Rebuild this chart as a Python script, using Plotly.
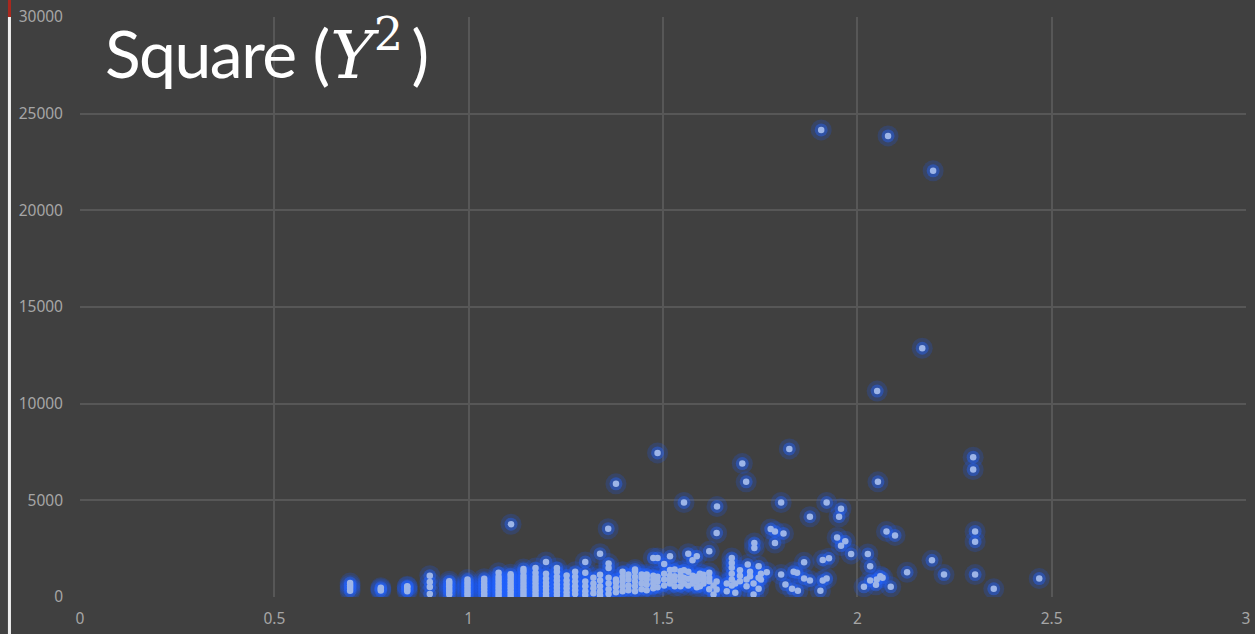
import plotly.graph_objects as go

# Scatter values: ratio on the x axis, squared response on the y axis
x_values = [
    0.695, 0.695, 0.695, 0.695,
    0.774, 0.774, 0.774,
    0.842, 0.842, 0.842, 0.842,
    0.900, 0.900, 0.900, 0.900,
    0.950, 0.950, 0.950, 0.950, 0.950, 0.950,
    0.997, 0.997, 0.997, 0.997, 0.997, 0.997, 0.997,
    1.040, 1.040, 1.040, 1.040, 1.040, 1.040, 1.040,
    1.077, 1.077, 1.077, 1.077, 1.077, 1.077, 1.077, 1.077, 1.077,
    1.108, 1.108, 1.108, 1.108, 1.108, 1.108, 1.108, 1.108, 1.108, 1.109,
    1.141, 1.141, 1.141, 1.141, 1.141, 1.141, 1.141, 1.141, 1.141, 1.141,
    1.172, 1.172, 1.172, 1.172, 1.172, 1.172, 1.172, 1.172, 1.172,
    1.199, 1.199, 1.199, 1.199, 1.199, 1.199, 1.199, 1.199,
    1.227, 1.227, 1.227, 1.227, 1.227, 1.227, 1.227, 1.227,
    1.252, 1.252, 1.252, 1.252, 1.252, 1.252,
    1.274, 1.274, 1.274, 1.274, 1.274, 1.274,
    1.300, 1.300, 1.300, 1.300, 1.300, 1.300,
    1.321, 1.321, 1.321, 1.321,
    1.338, 1.338, 1.338, 1.338, 1.338, 1.338,
    1.360, 1.360, 1.360, 1.360, 1.360, 1.360, 1.359,
    1.379, 1.379, 1.379, 1.379, 1.379,
    1.396, 1.396, 1.396, 1.396, 1.396,
    1.411, 1.411, 1.411, 1.411,
    1.428, 1.428, 1.428, 1.428, 1.428, 1.428,
    1.445, 1.445, 1.445, 1.445,
    1.458, 1.458, 1.458, 1.458, 1.458,
    1.475, 1.475, 1.475, 1.475, 1.475,
    1.486, 1.486, 1.486, 1.486, 1.486,
    1.503, 1.503, 1.503, 1.503,
    1.518, 1.518, 1.518, 1.518, 1.518,
    1.530, 1.530, 1.530, 1.530,
    1.545, 1.545, 1.545, 1.545,
    1.554, 1.554, 1.554, 1.554,
    1.565, 1.565, 1.565, 1.565,
    1.576, 1.576, 1.576, 1.576,
    1.587, 1.587, 1.587, 1.587,
    1.595, 1.595, 1.595,
    1.604, 1.604, 1.604,
    1.619, 1.619, 1.619, 1.619, 1.619,
    1.630, 1.630,
    1.638, 1.638, 1.638, 1.639,
    1.664, 1.664,
    1.677, 1.677, 1.677, 1.677, 1.677, 1.677,
    1.686, 1.686,
    1.698, 1.698, 1.698,
    1.704, 1.714, 1.715, 1.715, 1.718,
    1.724, 1.724,
    1.733, 1.733, 1.735, 1.735,
    1.746, 1.746, 1.746,
    1.752, 1.752,
    1.767, 1.777, 1.788, 1.788,
    1.804, 1.804, 1.810, 1.815,
    1.825, 1.832, 1.836, 1.845, 1.847,
    1.863, 1.863, 1.878, 1.878,
    1.905, 1.907, 1.911, 1.911, 1.921, 1.921, 1.927,
    1.948, 1.953, 1.958, 1.958, 1.969, 1.984,
    2.017, 2.027, 2.033, 2.033, 2.048, 2.050, 2.051, 2.053, 2.059, 2.065,
    2.075, 2.079, 2.086, 2.097,
    2.128, 2.167, 2.192, 2.195, 2.223,
    2.298, 2.298, 2.303, 2.303, 2.303,
    2.351, 2.468,
]

y_values = [
    320, 460, 600, 720,
    330, 420, 480,
    300, 400, 520, 560,
    150, 520, 780, 1100,
    130, 280, 420, 560, 700, 820,
    60, 200, 340, 480, 620, 760, 900,
    60, 200, 350, 500, 650, 800, 950,
    20, 150, 300, 450, 600, 750, 900, 1050, 1250,
    10, 150, 300, 450, 600, 750, 900, 1050, 1180, 3765,
    20, 170, 320, 470, 620, 780, 940, 1100, 1300, 1450,
    30, 180, 350, 520, 700, 880, 1050, 1250, 1506,
    50, 200, 380, 560, 740, 954, 1200, 1815,
    100, 280, 460, 650, 850, 1050, 1300, 1506,
    60, 250, 450, 650, 850, 1109,
    150, 350, 550, 800, 1050, 1300,
    100, 300, 550, 800, 1248, 1815,
    200, 450, 700, 990,
    80, 300, 550, 850, 1145, 2243,
    150, 400, 700, 1000, 1500, 1728, 3532,
    250, 500, 750, 900, 5853,
    300, 550, 800, 1050, 1300,
    350, 600, 900, 1170,
    300, 550, 800, 1050, 1315, 1418,
    400, 700, 987, 1160,
    350, 650, 900, 1073, 1170,
    450, 700, 900, 1100, 2022,
    500, 800, 1050, 2022, 7452,
    600, 900, 1200, 1712,
    700, 902, 1100, 1400, 2104,
    550, 850, 1073, 1418,
    557, 850, 1100, 1330,
    700, 1000, 1382, 4889,
    600, 950, 1300, 2243,
    700, 902, 1100, 1898,
    500, 800, 1050, 2104,
    557, 900, 1200,
    700, 939, 1150,
    400, 815, 1000, 1248, 2362,
    129, 600,
    387, 800, 3311, 4683,
    299, 700,
    593, 900, 1200, 1507, 1765, 2022,
    217, 700,
    815, 1100, 1382,
    6900, 5956, 557, 900, 1676,
    1073, 1300,
    129, 700, 2537, 2795,
    423, 1000, 1588,
    902, 1200,
    1279, 3517, 2795, 3393,
    1160, 4889, 3290, 645,
    7658, 423, 1300, 1250, 320,
    954, 1795, 851, 4151,
    320, 24160, 851, 1918, 954, 4889, 2001,
    3084, 4151, 4564, 2656, 2878, 2228,
    526, 2228, 1588, 851, 629, 900, 10650, 5956, 1073, 1000,
    3393, 23850, 526, 3187,
    1279, 12867, 1898, 22046, 1160,
    7230, 6591, 3393, 2862, 1160,
    423, 954,
]

x_ticks = [0, 0.5, 1, 1.5, 2, 2.5, 3]
y_ticks = [0, 5000, 10000, 15000, 20000, 25000, 30000]

bg = "#404040"
fig = go.Figure()

# blue glow under each point, stacked from translucent layers
fig.add_trace(go.Scatter(
    x=x_values, y=y_values, mode="markers", hoverinfo="skip",
    marker=dict(size=21, color="rgba(25,90,255,0.20)", line=dict(width=0)),
))
fig.add_trace(go.Scatter(
    x=x_values, y=y_values, mode="markers", hoverinfo="skip",
    marker=dict(size=13, color="rgba(35,100,255,0.42)", line=dict(width=0)),
))
fig.add_trace(go.Scatter(
    x=x_values, y=y_values, mode="markers",
    marker=dict(size=6.5, color="#9DB5E8", line=dict(width=0)),
))

tick_font = dict(family="Noto Sans, Open Sans, sans-serif", size=15.5, color="#A6A6A6")

fig.update_layout(
    width=1255, height=634,
    margin=dict(l=80, r=5, t=14, b=36),
    paper_bgcolor=bg, plot_bgcolor=bg,
    showlegend=False,
    xaxis=dict(
        range=[0, 3], tickvals=x_ticks, ticktext=[f"{v:g}" for v in x_ticks],
        showgrid=True, gridcolor="#575757", gridwidth=2,
        zeroline=False, showline=False, ticks="",
        tickfont=tick_font, ticklabelstandoff=10,
    ),
    yaxis=dict(
        range=[0, 30000], tickvals=y_ticks, ticktext=[str(v) for v in y_ticks],
        showgrid=True, gridcolor="#575757", gridwidth=2,
        zeroline=False, showline=False, ticks="",
        tickfont=tick_font, ticklabelstandoff=16,
    ),
    annotations=[dict(
        xref="paper", yref="paper", x=0.0195, y=0.943,
        xanchor="left", yanchor="middle", showarrow=False,
        text=("<span style=\"letter-spacing:-1.5px\">Square</span> ("
              "<span style=\"font-family:'DejaVu Serif', 'Liberation Serif', serif\">"
              "<i>Y</i><sup>2</sup></span>&#8201;)"),
        font=dict(family="Lato, Noto Sans, sans-serif", size=66, color="#FFFFFF"),
    )],
    shapes=[
        dict(type="rect", xref="paper", yref="paper", x0=-0.0618, x1=-0.0592,
             y0=-0.08, y1=1.0, fillcolor="#EDEDED", line=dict(width=0), layer="above"),
        dict(type="rect", xref="paper", yref="paper", x0=-0.0618, x1=-0.0592,
             y0=1.0, y1=1.05, fillcolor="#A8281E", line=dict(width=0), layer="above"),
    ],
)

fig.write_html("out.html")
